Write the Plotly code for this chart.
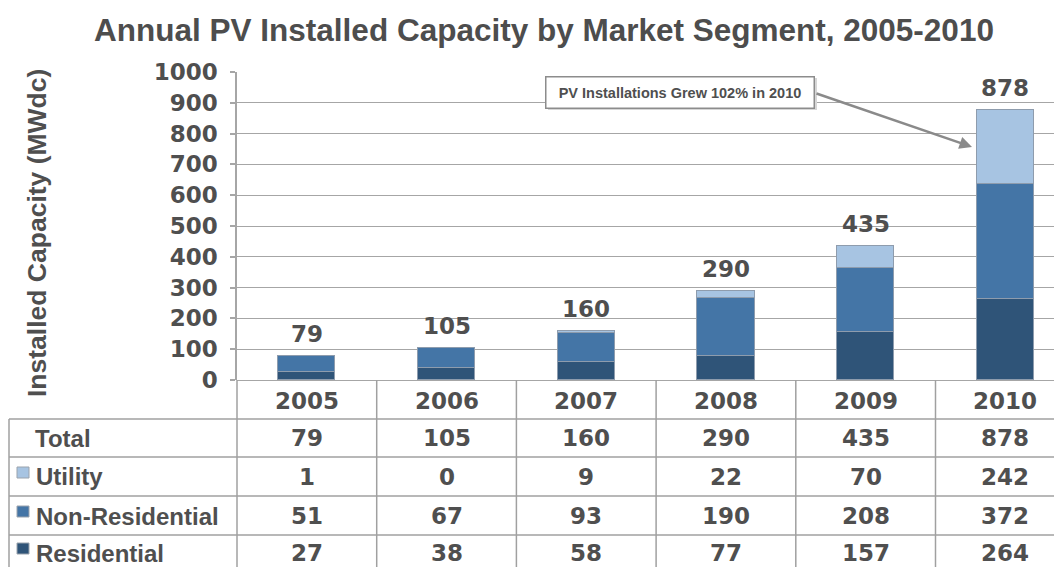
import plotly.graph_objects as go

# ---------------- data ----------------
years = ["2005", "2006", "2007", "2008", "2009", "2010"]
residential = [27, 38, 58, 77, 157, 264]
non_residential = [51, 67, 93, 190, 208, 372]
utility = [1, 0, 9, 22, 70, 242]
totals = [79, 105, 160, 290, 435, 878]
y_ticks = [0, 100, 200, 300, 400, 500, 600, 700, 800, 900, 1000]

title_text = "Annual PV Installed Capacity by Market Segment, 2005-2010"
y_title = "Installed Capacity (MWdc)"
callout_text = "PV Installations Grew 102% in 2010"

# ---------------- style / layout constants (screen pixels) ----------------
SCR_W, SCR_H = 1062, 567
OFF = 8                        # default page body margin
W, H = SCR_W - OFF, SCR_H - OFF
PLOT_LEFT_PX, PLOT_TOP_PX, PLOT_BOTTOM_PX = 237, 72, 380
ML, MR, MT, MB = PLOT_LEFT_PX - OFF, 0, PLOT_TOP_PX - OFF, 0
COL_W = 139.7                  # pixel width of one category
paper_w = W - ML - MR
paper_h = H - MT - MB
XR = [-0.5, -0.5 + paper_w / COL_W]
YR = [0, 1000]
PX_PER_UNIT = (PLOT_BOTTOM_PX - PLOT_TOP_PX) / (YR[1] - YR[0])

C_RES = "#2f5478"
C_NONRES = "#4475a6"
C_UTIL = "#a7c4e2"
C_TEXT = "#4f4f4f"
C_GRID = "#a6a6a6"

NUM_FONT = "DejaVu Sans"
LBL_FONT = "Liberation Sans, Arial, sans-serif"


def py_paper(sy):
    return (SCR_H - sy) / paper_h


def px_paper(sx):
    return (sx - PLOT_LEFT_PX) / paper_w


def cat_paper(c):
    return (c - XR[0]) / (XR[1] - XR[0])


def pix_to_cat(sx):
    return (sx - PLOT_LEFT_PX) / COL_W + XR[0]


def pix_to_val(sy):
    return (PLOT_BOTTOM_PX - sy) / PX_PER_UNIT


y_dom0 = py_paper(PLOT_BOTTOM_PX)

fig = go.Figure()
for name, vals, col in [("Residential", residential, C_RES),
                        ("Non-Residential", non_residential, C_NONRES),
                        ("Utility", utility, C_UTIL)]:
    fig.add_trace(go.Bar(
        x=list(range(len(years))), y=vals, name=name,
        marker=dict(color=col, line=dict(color="#8e9cad", width=1.2)),
        width=0.41, showlegend=False, hoverinfo="y+name"))

annotations = []
shapes = []

# totals above bars
for i, t in enumerate(totals):
    annotations.append(dict(x=i, y=t, xref="x", yref="y", text=str(t),
                            showarrow=False, xanchor="center", yanchor="bottom", yshift=7,
                            font=dict(family=NUM_FONT, size=23, color=C_TEXT, weight="bold")))

# y-axis title
annotations.append(dict(x=px_paper(37), y=py_paper(233), xref="paper", yref="paper",
                        text=y_title, textangle=-90, showarrow=False,
                        xanchor="center", yanchor="middle",
                        font=dict(family=LBL_FONT, size=26.5, color=C_TEXT, weight="bold")))

# callout box shadow + box
annotations.append(dict(x=pix_to_cat(682), y=pix_to_val(94),
                        xref="x", yref="y", text=" ", showarrow=False,
                        xanchor="center", yanchor="middle",
                        width=267, height=30, bgcolor="#d6d6d6", borderwidth=0))
annotations.append(dict(x=pix_to_cat(680), y=pix_to_val(92),
                        xref="x", yref="y", text=callout_text, showarrow=False,
                        xanchor="center", yanchor="middle",
                        width=267, height=30, bgcolor="white", bordercolor="#8c8c8c",
                        borderwidth=1.5, borderpad=0,
                        font=dict(family=LBL_FONT, size=14.5, color=C_TEXT, weight="bold")))
# callout arrow
annotations.append(dict(x=pix_to_cat(972), y=pix_to_val(147),
                        ax=pix_to_cat(815), ay=pix_to_val(93),
                        xref="x", yref="y", axref="x", ayref="y", text="",
                        showarrow=True, arrowhead=2, arrowsize=1, arrowwidth=2.5,
                        arrowcolor="#8a8a8a"))

# ---------------- data table below ----------------
row_centers = {"year": 401, "Total": 438, "Utility": 477, "Non-Residential": 516, "Residential": 553}
row_values = [("Total", totals, None), ("Utility", utility, C_UTIL),
              ("Non-Residential", non_residential, C_NONRES), ("Residential", residential, C_RES)]

for i, yr in enumerate(years):
    annotations.append(dict(x=cat_paper(i), y=py_paper(row_centers["year"]), xref="paper", yref="paper",
                            text=yr, showarrow=False, xanchor="center", yanchor="middle",
                            font=dict(family=NUM_FONT, size=23, color=C_TEXT, weight="bold")))

for label, vals, col in row_values:
    yc = py_paper(row_centers[label])
    for i, v in enumerate(vals):
        annotations.append(dict(x=cat_paper(i), y=yc, xref="paper", yref="paper",
                                text=str(v), showarrow=False, xanchor="center", yanchor="middle",
                                font=dict(family=NUM_FONT, size=23, color=C_TEXT, weight="bold")))
    annotations.append(dict(x=px_paper(33 if col is None else 34), y=yc, xref="paper", yref="paper",
                            text=label, showarrow=False, xanchor="left", yanchor="middle",
                            font=dict(family=LBL_FONT, size=24, color=C_TEXT, weight="bold")))
    if col is not None:
        cy = row_centers[label]
        shapes.append(dict(type="rect", xref="paper", yref="paper",
                           x0=px_paper(17), x1=px_paper(29),
                           y0=py_paper(cy - 10), y1=py_paper(cy + 1),
                           fillcolor=col, line=dict(color="#9aa3ad", width=1)))

line_style = dict(color="#a0a0a0", width=1.5)
for sy in [419, 457, 496, 535]:
    shapes.append(dict(type="line", xref="paper", yref="paper",
                       x0=px_paper(9), x1=1.0, y0=py_paper(sy), y1=py_paper(sy), line=line_style))
shapes.append(dict(type="line", xref="paper", yref="paper",
                   x0=px_paper(9), x1=px_paper(9), y0=py_paper(419), y1=0, line=line_style))
shapes.append(dict(type="line", xref="paper", yref="paper",
                   x0=0, x1=0, y0=y_dom0, y1=0, line=line_style))
for b in range(len(years) - 1):
    xb = cat_paper(b + 0.5)
    shapes.append(dict(type="line", xref="paper", yref="paper",
                       x0=xb, x1=xb, y0=y_dom0, y1=0, line=line_style))

fig.update_layout(
    width=W, height=H,
    margin=dict(l=ML, r=MR, t=MT, b=MB, autoexpand=False),
    barmode="stack", bargap=0,
    plot_bgcolor="white", paper_bgcolor="white",
    title=dict(text=title_text, x=(544 - OFF) / W, y=1 - (30 - OFF) / H,
               xref="container", yref="container",
               xanchor="center", yanchor="middle", automargin=False,
               font=dict(family=LBL_FONT, size=31.5, color="#4d4d4d", weight="bold")),
    xaxis=dict(range=XR, showticklabels=False, showgrid=False, zeroline=False,
               showline=False, ticks="", fixedrange=True, automargin=False),
    yaxis=dict(range=YR, domain=[y_dom0, 1], tickvals=y_ticks, automargin=False,
               showgrid=True, gridcolor=C_GRID, gridwidth=1.2,
               zeroline=True, zerolinecolor=C_GRID, zerolinewidth=1.2,
               showline=True, linecolor=C_GRID, linewidth=1.5,
               ticks="outside", ticklen=5, tickcolor=C_GRID, tickwidth=1.5,
               ticklabelstandoff=8,
               tickfont=dict(family=NUM_FONT, size=23, color=C_TEXT, weight="bold")),
    annotations=annotations, shapes=shapes,
)

fig.write_html("out.html")
